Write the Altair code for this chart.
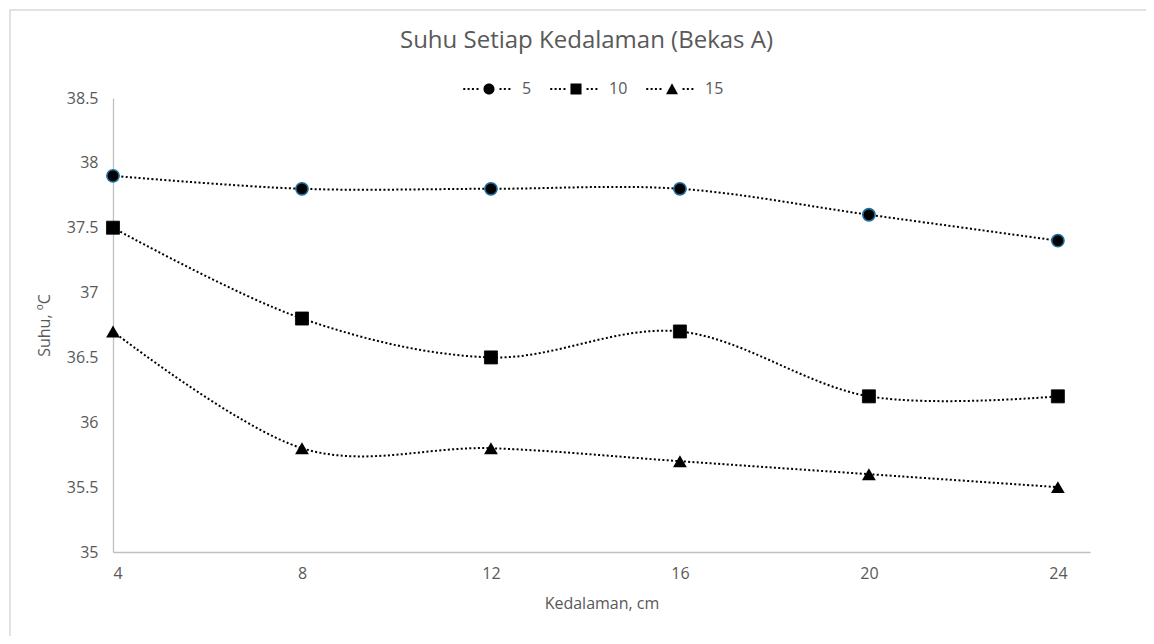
import altair as alt
import pandas as pd

# ---- data -------------------------------------------------------------
depth = [4, 8, 12, 16, 20, 24]
series_names = ["5", "10", "15"]
temp_5 = [37.9, 37.8, 37.8, 37.8, 37.6, 37.4]
temp_10 = [37.5, 36.8, 36.5, 36.7, 36.2, 36.2]
temp_15 = [36.7, 35.8, 35.8, 35.7, 35.6, 35.5]
y_ticks = [35, 35.5, 36, 36.5, 37, 37.5, 38, 38.5]

rows = []
for name, vals in zip(series_names, [temp_5, temp_10, temp_15]):
    for d, v in zip(depth, vals):
        rows.append({"depth": d, "temp": v, "series": name})
df = pd.DataFrame(rows)

FONT = "Open Sans"
TXT = "#595959"

# ---- legend symbols (dotted line + marker) as custom paths ------------
def dots(xs, h=0.042):
    return " ".join(
        f"M {x - h:.3f} {-h:.3f} L {x + h:.3f} {-h:.3f} L {x + h:.3f} {h:.3f} L {x - h:.3f} {h:.3f} Z"
        for x in xs
    )

dot_xs = [-1.03, -0.85, -0.67, -0.48, 0.48, 0.66, 0.85]
r = 0.23
k = 0.5523 * r
circle_p = (f"M {r} 0 C {r} {k} {k} {r} 0 {r} C {-k} {r} {-r} {k} {-r} 0 "
            f"C {-r} {-k} {-k} {-r} 0 {-r} C {k} {-r} {r} {-k} {r} 0 Z")
square_p = f"M {-r} {-r} L {r} {-r} L {r} {r} L {-r} {r} Z"
tri_p = f"M {-0.25} 0.22 L 0 -0.24 L 0.25 0.22 Z"
legend_paths = [dots(dot_xs) + " " + p for p in [circle_p, square_p, tri_p]]

x_enc = alt.X(
    "depth:Q",
    scale=alt.Scale(domain=[4, 24.68], nice=False, zero=False),
    axis=alt.Axis(values=depth, title="Kedalaman, cm", labelPadding=13,
                  titlePadding=14),
)
y_enc = alt.Y(
    "temp:Q",
    scale=alt.Scale(domain=[35, 38.5], nice=False, zero=False),
    axis=alt.Axis(values=y_ticks, format=".1~f", title="Suhu, ºC",
                  labelPadding=15, titlePadding=14),
)

frame = alt.Chart(alt.Data(values=[{"a": 1}])).mark_rect(
    fillOpacity=0, stroke="#d9d9d9", strokeWidth=1.5
).encode(
    x=alt.value(-103), x2=alt.value(1100), y=alt.value(-88), y2=alt.value(600)
)

lines = alt.Chart(df).mark_line(
    interpolate="cardinal", tension=0, color="black", strokeWidth=2,
    strokeDash=[2, 2.3]
).encode(x=x_enc, y=y_enc, detail="series:N")

points = alt.Chart(df).mark_point(filled=True, fill="black", opacity=1).encode(
    x=x_enc,
    y=y_enc,
    shape=alt.Shape("series:N",
                    scale=alt.Scale(domain=series_names,
                                    range=["circle", "square", "triangle-up"]),
                    legend=None),
    size=alt.Size("series:O",
                  scale=alt.Scale(domain=series_names, range=[150, 190, 140]),
                  legend=None),
    stroke=alt.Stroke("series:N",
                      scale=alt.Scale(domain=series_names,
                                      range=["#1f6e9c", "black", "black"]),
                      legend=None),
    strokeWidth=alt.StrokeWidth("series:O",
                                scale=alt.Scale(domain=series_names,
                                                range=[1.6, 0, 0]),
                                legend=None),
)

legend_layer = alt.Chart(df).transform_filter("false").mark_point(
    filled=True, color="black", opacity=1
).encode(
    shape=alt.Shape(
        "series:N",
        scale=alt.Scale(domain=series_names, range=legend_paths),
        legend=alt.Legend(
            title=None, orient="none", legendX=352, legendY=-33,
            direction="horizontal", symbolSize=2304, symbolStrokeWidth=0,
            symbolFillColor="black", symbolOpacity=1, labelFont=FONT,
            labelFontSize=16, labelColor=TXT, labelOffset=9,
            columnPadding=18, padding=0,
        ),
    )
)

chart = (
    alt.layer(frame, lines, points, legend_layer)
    .resolve_scale(shape="independent")
    .properties(
        width=977,
        height=454,
        autosize=alt.AutoSizeParams(type="none"),
        padding={"left": 105, "top": 90, "right": 56, "bottom": 84},
        title=alt.TitleParams(
            text="Suhu Setiap Kedalaman (Bekas A)", font=FONT, fontSize=24,
            fontWeight="normal", color=TXT, anchor="middle", frame="group",
            baseline="alphabetic", offset=-63, dx=-15,
        ),
    )
    .configure_view(stroke=None)
    .configure_axis(
        grid=False, ticks=False, tickSize=0, domainColor="#bfbfbf",
        domainWidth=1.3, labelColor=TXT, labelFont=FONT, labelFontSize=16,
        titleColor=TXT, titleFont=FONT, titleFontSize=16,
        titleFontWeight="normal",
    )
)

chart.save("out.html", embed_options={"renderer": "svg", "actions": False})
